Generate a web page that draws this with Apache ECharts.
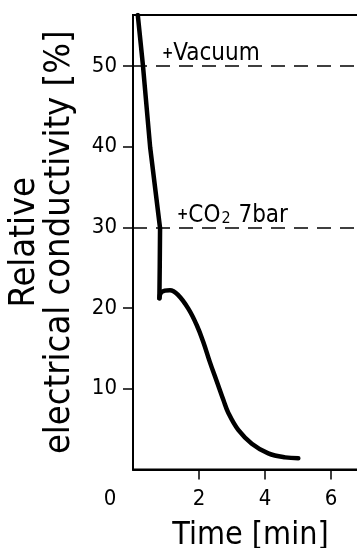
<!DOCTYPE html>
<html>
<head>
<meta charset="utf-8">
<script src="https://cdn.jsdelivr.net/npm/echarts@6/dist/echarts.min.js"></script>
<style>
  html, body { margin: 0; padding: 0; background: #fff; }
  #chart { width: 357px; height: 548px; }
</style>
</head>
<body>
<div id="chart"></div>
<script>
// Values (time in min, conductivity in %).
const timeMin = [0.145, 0.30, 0.52, 0.82, 0.81, 0.80, 0.87, 1.12, 1.37, 1.68, 1.93, 2.13,
  2.33, 2.54, 2.74, 2.89, 3.19, 3.60, 4.10, 4.61, 5.01];
const conductivity = [56.3, 50.1, 39.9, 29.9, 25.0, 21.2, 22.0, 22.2, 21.6, 19.9, 17.9, 15.8,
  13.3, 10.9, 8.6, 7.0, 4.9, 3.2, 2.0, 1.5, 1.4];
// index where the sharp corner after the vertical drop sits
const cornerIdx = 5;
const xTicks = [2, 4, 6];
const xLabels = [0, 2, 4, 6];
const yTicks = [10, 20, 30, 40, 50];
const vacuumLevel = 50;
const co2Level = 30;

const FONT = '"DejaVu Sans Condensed", "Liberation Sans Narrow", "DejaVu Sans", sans-serif';

const chart = echarts.init(document.getElementById('chart'), null, { renderer: 'canvas' });

const dashStyle = { color: '#000', type: [14, 9], width: 1.5 };
const curveStyle = { color: '#000', width: 4.5, cap: 'round', join: 'round' };
const pts = timeMin.map((t, i) => [t, conductivity[i]]);

chart.setOption({
  animation: false,
  backgroundColor: '#fff',
  grid: {
    left: 133, top: 15, right: -5, bottom: 78.5,
    outerBoundsMode: 'none',
    show: true, borderColor: '#000', borderWidth: 2,
  },
  xAxis: {
    type: 'value',
    min: 0,
    max: 6.94,
    name: 'Time [min]',
    nameLocation: 'middle',
    nameGap: 50,
    nameTextStyle: { fontFamily: FONT, fontSize: 32, color: '#000', padding: [0, 0, 0, 6] },
    axisLine: { lineStyle: { color: '#000', width: 2 } },
    axisTick: { show: true, length: 10, lineStyle: { color: '#000', width: 1.5 }, customValues: xTicks },
    axisLabel: {
      customValues: xLabels,
      margin: 19,
      fontFamily: FONT, fontSize: 22, color: '#000',
      // the origin "0" sits left of the corner in the figure
      formatter: (v) => (v === 0 ? '{z|0}' : String(v)),
      rich: { z: { fontFamily: FONT, fontSize: 22, color: '#000', padding: [0, 46, 0, 0] } },
    },
    splitLine: { show: false },
  },
  yAxis: {
    type: 'value',
    min: 0,
    max: 56.3,
    name: 'Relative\nelectrical conductivity [%]',
    nameLocation: 'middle',
    nameGap: 56,
    nameRotate: 90,
    nameTextStyle: { fontFamily: FONT, fontSize: 36, color: '#000', lineHeight: 35 },
    axisLine: { lineStyle: { color: '#000', width: 2 } },
    axisTick: { show: true, length: 10, lineStyle: { color: '#000', width: 1.5 }, customValues: yTicks },
    axisLabel: {
      customValues: yTicks,
      margin: 16,
      fontFamily: FONT, fontSize: 22, color: '#000',
    },
    splitLine: { show: false },
  },
  series: [
    {
      // steep fall and vertical drop: straight segments
      type: 'line',
      data: pts.slice(0, cornerIdx + 1),
      showSymbol: false,
      smooth: false,
      lineStyle: curveStyle,
      markLine: {
        silent: true,
        symbol: 'none',
        lineStyle: dashStyle,
        data: [
          {
            yAxis: vacuumLevel,
            label: {
              position: 'insideStartTop',
              distance: [29, 0],
              formatter: '{p|+}{t|Vacuum}',
              rich: {
                p: { fontFamily: FONT, fontSize: 15, color: '#000', fontWeight: 'bold' },
                t: { fontFamily: FONT, fontSize: 24, color: '#000' },
              },
            },
          },
          {
            yAxis: co2Level,
            label: {
              position: 'insideStartTop',
              distance: [44, 0],
              formatter: '{p|+}{t|CO}{s|2}{t| 7bar}',
              rich: {
                p: { fontFamily: FONT, fontSize: 15, color: '#000', fontWeight: 'bold' },
                t: { fontFamily: FONT, fontSize: 24, color: '#000' },
                s: { fontFamily: FONT, fontSize: 16, color: '#000', verticalAlign: 'bottom', padding: [8, 1, 0, 1] },
              },
            },
          },
        ],
      },
    },
    {
      // recovery bump and slow decay: smooth curve
      type: 'line',
      data: pts.slice(cornerIdx),
      showSymbol: false,
      smooth: 0.4,
      lineStyle: curveStyle,
    },
  ],
});
</script>
</body>
</html>
